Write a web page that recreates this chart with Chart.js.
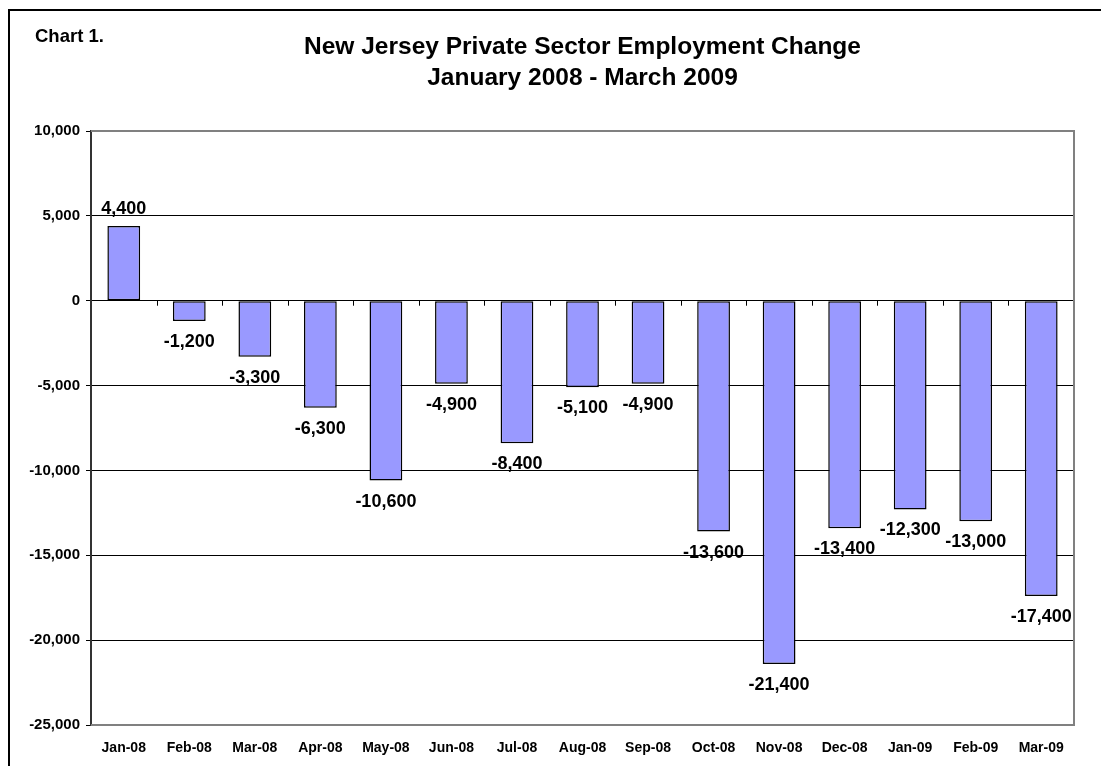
<!DOCTYPE html>
<html>
<head>
<meta charset="utf-8">
<script src="https://cdn.jsdelivr.net/npm/chart.js@4/dist/chart.umd.min.js"></script>
<style>
  html, body { margin: 0; padding: 0; background: #fff; }
  #wrap { width: 1101px; height: 766px; position: relative; }
</style>
</head>
<body>
<div id="wrap"><canvas id="c" width="1101" height="766"></canvas></div>
<script>
const categories = ['Jan-08','Feb-08','Mar-08','Apr-08','May-08','Jun-08','Jul-08','Aug-08','Sep-08','Oct-08','Nov-08','Dec-08','Jan-09','Feb-09','Mar-09'];
const employmentChange = [4400, -1200, -3300, -6300, -10600, -4900, -8400, -5100, -4900, -13600, -21400, -13400, -12300, -13000, -17400];
const yTickValues = [10000, 5000, 0, -5000, -10000, -15000, -20000, -25000];
const titleLines = ['New Jersey Private Sector Employment Change', 'January 2008 - March 2009'];
const cornerLabel = 'Chart 1.';

const FONT = '"Liberation Sans", Arial, Helvetica, sans-serif';
const fmt = v => v.toLocaleString('en-US');

const decorPlugin = {
  id: 'decor',
  beforeDraw(chart) {
    const ctx = chart.ctx;
    ctx.save();
    ctx.fillStyle = '#fff';
    ctx.fillRect(0, 0, chart.width, chart.height);
    ctx.strokeStyle = '#000';
    ctx.lineWidth = 2;
    ctx.strokeRect(9, 10, chart.width + 50, chart.height + 50);
    ctx.restore();
  },
  beforeDatasetsDraw(chart) {
    const ctx = chart.ctx, a = chart.chartArea;
    const y = chart.scales.y, x = chart.scales.x;
    ctx.save();
    ctx.strokeStyle = '#808080';
    ctx.lineWidth = 2;
    ctx.beginPath();
    ctx.moveTo(a.left, a.top);
    ctx.lineTo(a.right, a.top);
    ctx.lineTo(a.right, a.bottom);
    ctx.lineTo(a.left, a.bottom);
    ctx.stroke();
    const y0 = y.getPixelForValue(0);
    const n = categories.length;
    ctx.strokeStyle = '#000';
    ctx.lineWidth = 1;
    ctx.beginPath();
    for (let i = 1; i < n; i++) {
      const px = Math.round((x.getPixelForValue(i - 1) + x.getPixelForValue(i)) / 2) + 0.5;
      ctx.moveTo(px, y0);
      ctx.lineTo(px, y0 + 5);
    }
    ctx.stroke();
    ctx.restore();
  },
  afterDatasetsDraw(chart) {
    const ctx = chart.ctx;
    const meta = chart.getDatasetMeta(0);
    ctx.save();
    ctx.fillStyle = '#000';
    ctx.font = 'bold 18px ' + FONT;
    ctx.textAlign = 'center';
    ctx.textBaseline = 'alphabetic';
    meta.data.forEach((bar, i) => {
      const v = employmentChange[i];
      const ty = v >= 0 ? bar.y - 12 : bar.y + 26;
      ctx.fillText(fmt(v), bar.x, ty);
    });
    ctx.restore();
  },
  afterDraw(chart) {
    const ctx = chart.ctx, a = chart.chartArea;
    ctx.save();
    ctx.fillStyle = '#000';
    ctx.textBaseline = 'alphabetic';
    ctx.textAlign = 'left';
    ctx.font = 'bold 18.5px ' + FONT;
    ctx.fillText(cornerLabel, 35, 42);
    ctx.textAlign = 'center';
    ctx.font = 'bold 24.5px ' + FONT;
    const cx = (a.left + a.right) / 2;
    ctx.fillText(titleLines[0], cx, 54);
    ctx.fillText(titleLines[1], cx, 85);
    ctx.restore();
  }
};

new Chart(document.getElementById('c'), {
  type: 'bar',
  data: {
    labels: categories,
    datasets: [{
      data: employmentChange,
      backgroundColor: '#9999FF',
      borderColor: '#000',
      borderWidth: 1.5,
      borderSkipped: false,
      categoryPercentage: 1,
      barPercentage: 0.5
    }]
  },
  options: {
    responsive: false,
    animation: false,
    devicePixelRatio: 1,
    layout: { padding: { top: 131, right: 27, left: 0, bottom: 0 } },
    plugins: { legend: { display: false }, title: { display: false }, tooltip: { enabled: false } },
    scales: {
      x: {
        grid: { display: false, drawTicks: false },
        border: { display: false },
        ticks: { color: '#000', font: { family: FONT, size: 14, weight: 'bold' }, padding: 15, maxRotation: 0, autoSkip: false },
        afterFit(s) { s.height = 41; }
      },
      y: {
        min: -25000, max: 10000,
        afterBuildTicks(s) { s.ticks = yTickValues.map(v => ({ value: v })); },
        grid: { color: '#000', lineWidth: 1, drawTicks: true, tickLength: 5, tickColor: '#000' },
        border: { display: true, color: '#333', width: 2 },
        ticks: { color: '#000', font: { family: FONT, size: 15, weight: 'bold' }, padding: 6, callback: v => fmt(v) },
        afterFit(s) { s.width = 91; }
      }
    }
  },
  plugins: [decorPlugin]
});
</script>
</body>
</html>
